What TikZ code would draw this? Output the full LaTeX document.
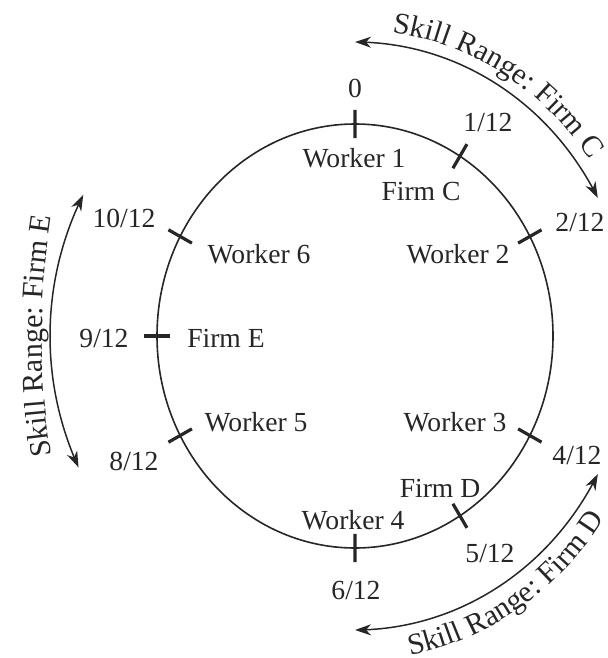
\documentclass[tikz,border=0pt]{standalone}
\usepackage{fontspec}
\setmainfont{Liberation Serif}
\usetikzlibrary{calc,arrows.meta,decorations.text}
\newcommand{\lblfont}{\fontsize{13.8}{16}\selectfont}
\newcommand{\arcfont}{\fontsize{15}{17}\selectfont}
\begin{document}
\begin{tikzpicture}[x=0.5pt,y=-0.5pt,
  lbl/.style={font=\lblfont, inner sep=0pt, text=black!85},
  ring/.style={line width=0.8pt, draw=black!85},
  tickmark/.style={line width=1.6pt, draw=black!85},
  rangearc/.style={line width=0.75pt, draw=black!85,
    {Stealth[length=8pt,width=5.5pt,inset=2.5pt]}-{Stealth[length=8pt,width=5.5pt,inset=2.5pt]}},
  arctext/.style={decorate, decoration={text along path, text align=center, text color=black!85}}]
\useasboundingbox (0,0) rectangle (607,658);

% the skill circle
\coordinate (C) at (355,336);
\draw[ring] (C) ellipse [x radius=99pt, y radius=106pt];

% tick marks on the circle
\foreach \n/\t in {t0/0, t1/32, t2/62, t4/118, t5/148, t6/180, t8/242, t9/270, t10/298} {
  \coordinate (\n) at ({355+198*sin(\t)},{336-212*cos(\t)});
  \draw[tickmark] ($(C)!0.933!(\n)$) -- ($(C)!1.067!(\n)$);
}

% tick labels
\node[lbl] (l0)  at (355,88)  {0};
\node[lbl] (l1)  at (488,122) {1/12};
\node[lbl] (l2)  at (580,222) {2/12};
\node[lbl] (l4)  at (577,455) {4/12};
\node[lbl] (l5)  at (490,553) {5/12};
\node[lbl] (l6)  at (356,590) {6/12};
\node[lbl] (l8)  at (134,461) {8/12};
\node[lbl] (l9)  at (104,338) {9/12};
\node[lbl] (l10) at (124,218) {10/12};

% workers and firms
\node[lbl] (w1) at (354,158) {Worker 1};
\node[lbl] (fc) at (421,191) {Firm C};
\node[lbl] (w2) at (458,254) {Worker 2};
\node[lbl] (w3) at (455,422) {Worker 3};
\node[lbl] (fd) at (440,488) {Firm D};
\node[lbl] (w4) at (353,520) {Worker 4};
\node[lbl] (w5) at (256,422) {Worker 5};
\node[lbl] (fe) at (226,338) {Firm E};
\node[lbl] (w6) at (259,254) {Worker 6};

% skill ranges
\draw[rangearc] plot[domain=0:62, samples=60] ({355+275*sin(\x)},{336-294*cos(\x)});
\draw[rangearc] plot[domain=118:180, samples=60] ({355+275*sin(\x)},{336-294*cos(\x)});
\draw[rangearc] plot[domain=245:297, samples=60] ({355+305*sin(\x)},{336-311*cos(\x)});

\path[arctext, decoration={text={|\arcfont|Skill Range: Firm C}}]
  plot[domain=0:62, samples=60] ({355+287*sin(\x)},{336-306*cos(\x)});
\path[arctext, decoration={text={|\arcfont|Skill Range: Firm D}}]
  plot[domain=0:56, samples=60] ({355+302*sin(175-\x)},{336-325*cos(175-\x)});
\path[arctext, decoration={text={|\arcfont|Skill Range: Firm E}}]
  plot[domain=250:290, samples=60] ({355+313*sin(\x)},{336-500*cos(\x)});
\end{tikzpicture}
\end{document}
